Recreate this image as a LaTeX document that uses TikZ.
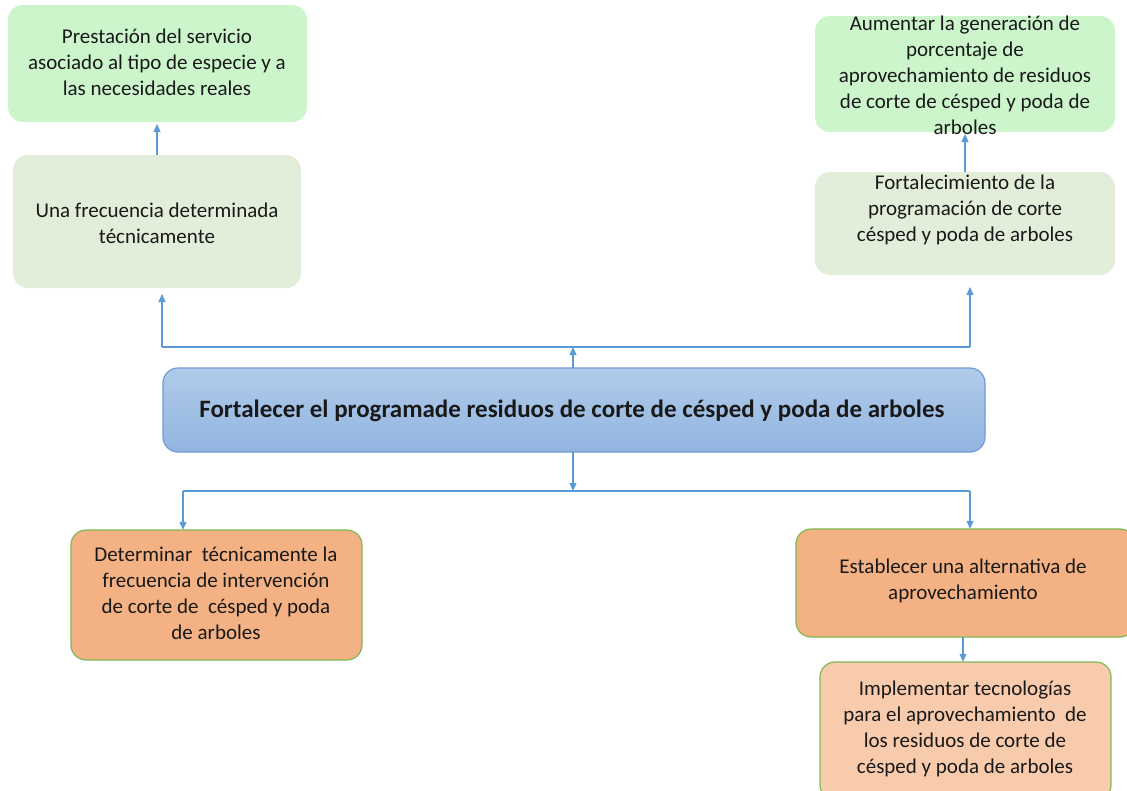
\documentclass[tikz,border=0pt]{standalone}
\usepackage{fontspec}
\setmainfont{Carlito}
\usetikzlibrary{arrows.meta}
\definecolor{lgreen}{HTML}{CCF5CC}
\definecolor{sage}{HTML}{E2EED9}
\definecolor{orng}{HTML}{F4B183}
\definecolor{lorng}{HTML}{F8CBAD}
\definecolor{gbord}{HTML}{7DB955}
\definecolor{arrc}{HTML}{5B9BD5}
\definecolor{btop}{HTML}{B0CBEA}
\definecolor{bbot}{HTML}{92B5E0}
\definecolor{bbord}{HTML}{6E9CD2}
\tikzset{
  box/.style={rounded corners=15pt, inner sep=0pt, draw=none},
  txt/.style={align=center, font=\fontsize{21}{26}\selectfont, text=black!90, inner sep=0pt},
  conn/.style={draw=arrc, line width=1.1pt, -{Triangle[length=8pt,width=7pt]}},
  seg/.style={draw=arrc, line width=1.1pt},
}
\begin{document}
\begin{tikzpicture}[x=1pt,y=-1pt]
\useasboundingbox (0,0) rectangle (1127,790);
% boxes
\path[box, fill=lgreen] (8,5) rectangle (307,122);
\node[inner sep=0pt, minimum width=299pt, minimum height=117pt] (a1) at (157.5,63.5) {};
\path[box, fill=sage] (13,155) rectangle (301,288);
\node[inner sep=0pt, minimum width=288pt, minimum height=133pt] (a2) at (157,221.5) {};
\path[box, fill=lgreen] (815,16) rectangle (1115,132);
\node[inner sep=0pt, minimum width=300pt, minimum height=116pt] (b1) at (965,74) {};
\path[box, fill=sage] (815,172) rectangle (1115,275);
\node[inner sep=0pt, minimum width=300pt, minimum height=103pt] (b2) at (965,223.5) {};
\path[box, top color=btop, bottom color=bbot, draw=bbord, line width=1.2pt] (163,368) rectangle (985,452);
\node[inner sep=0pt, minimum width=822pt, minimum height=84pt] (m) at (574,410) {};
\path[box, fill=orng, draw=gbord, line width=1.2pt] (71,530) rectangle (362,660);
\node[inner sep=0pt, minimum width=291pt, minimum height=130pt] (c1) at (216.5,595) {};
\path[box, fill=orng, draw=gbord, line width=1.2pt] (796,529) rectangle (1135,637);
\node[inner sep=0pt, minimum width=339pt, minimum height=108pt] (d1) at (965.5,583) {};
\path[box, fill=lorng, draw=gbord, line width=1.2pt] (820,662) rectangle (1111,800);
\node[inner sep=0pt, minimum width=291pt, minimum height=128pt] (d2) at (965.5,726) {};
% texts
\node[txt] (ta1) at (157,62) {Prestación del servicio\\asociado al tipo de especie y a\\las necesidades reales};
\node[txt] (ta2) at (157,223) {Una frecuencia determinada\\técnicamente};
\node[txt] (tb1) at (965,75) {Aumentar la generación de\\porcentaje de\\aprovechamiento de residuos\\de corte de césped y poda de\\arboles};
\node[txt] (tb2) at (965,210) {Fortalecimiento de la\\programación de corte\\césped y poda de arboles};
\node[txt, font=\bfseries\fontsize{25}{26}\selectfont] (tm) at (572,411) {Fortalecer el programade residuos de corte de césped y poda de arboles};
\node[txt] (tc1) at (216,593) {Determinar\ \ técnicamente la\\frecuencia de intervención\\de corte de\ \ césped y poda\\de arboles};
\node[txt] (td1) at (963,581) {Establecer una alternativa de\\aprovechamiento};
\node[txt] (td2) at (965,729) {Implementar tecnologías\\para el aprovechamiento\ \ de\\los residuos de corte de\\césped y poda de arboles};
% connectors
\coordinate (ju) at (573,347);
\coordinate (jl) at (162,347);
\coordinate (jr) at (970,347);
\draw[conn] (m.north -| ju) -- (ju);
\draw[seg] (jl) -- (jr);
\draw[conn] (jl) -- (162,294);
\draw[conn] (jr) -- (970,287);
\draw[conn] (157,155) -- (157,124);
\draw[conn] (965,172) -- (965,134);
\coordinate (jd) at (573,491);
\coordinate (jdl) at (183,491);
\coordinate (jdr) at (970,491);
\draw[conn] (m.south -| jd) -- (jd);
\draw[seg] (jdl) -- (jdr);
\draw[conn] (jdl) -- (c1.north -| jdl);
\draw[conn] (jdr) -- (d1.north -| jdr);
\draw[conn] (d1.south -| 963,0) -- (d2.north -| 963,0);
\end{tikzpicture}
\end{document}
